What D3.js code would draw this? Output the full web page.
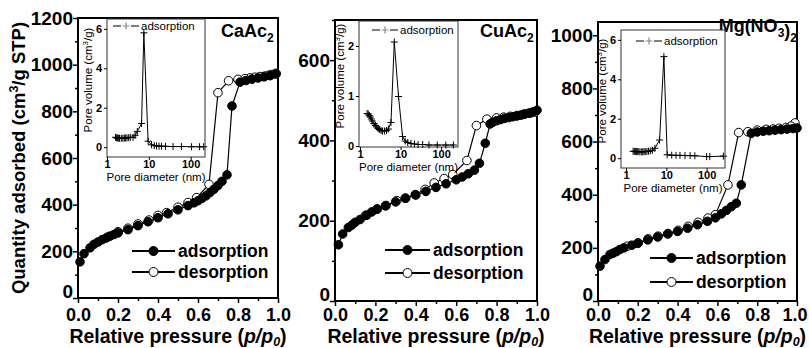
<!DOCTYPE html>
<html>
<head>
<meta charset="utf-8">
<script src="https://cdn.jsdelivr.net/npm/d3@7"></script>
<style>
  body { margin: 0; background: #fff; }
  svg { display: block; font-family: "Liberation Sans", Arial, sans-serif; }
</style>
</head>
<body>
<script>
// ---- data ----
// relative pressure ticks
var xTicks = [0, 0.2, 0.4, 0.6, 0.8, 1.0];
var xMinor = [0.1, 0.3, 0.5, 0.7, 0.9];
var caYTicks = [0, 200, 400, 600, 800, 1000, 1200];
var cuYTicks = [0, 200, 400, 600];
var mgYTicks = [0, 200, 400, 600, 800, 1000];
var insetXTicks = [1, 10, 100];
var caInsetYTicks = [0, 2, 4, 6];
var cuInsetYTicks = [0, 1, 2];
var mgInsetYTicks = [0, 2, 4, 6];

// isotherms [p/p0, quantity adsorbed]
var caAds = [[0.01,155],[0.03,190],[0.06,215],[0.08,230],[0.10,240],[0.12,250],[0.14,257],[0.16,265],[0.18,272],[0.20,279],[0.25,293],[0.30,310],[0.35,327],[0.40,344],[0.45,361],[0.50,378],[0.55,396],[0.58,408],[0.60,417],[0.62,427],[0.64,438],[0.66,452],[0.68,466],[0.70,482],[0.72,500],[0.745,528],[0.77,823],[0.81,925],[0.84,932],[0.87,938],[0.90,943],[0.93,948],[0.96,953],[0.99,960]];
var caDes = [[0.99,963],[0.97,958],[0.955,955],[0.935,951],[0.91,949],[0.885,946],[0.86,943],[0.835,940],[0.80,937],[0.753,931],[0.70,880],[0.655,487],[0.593,430],[0.55,409],[0.50,389],[0.443,366],[0.40,354],[0.355,334],[0.30,317],[0.25,299],[0.20,284],[0.15,262]];

var cuAds = [[0.017,140],[0.038,167],[0.066,183],[0.083,189],[0.10,196],[0.124,203],[0.157,214],[0.182,222],[0.21,229],[0.25,237],[0.30,247],[0.35,256],[0.40,264],[0.45,273],[0.50,283],[0.55,292],[0.60,302],[0.63,309],[0.66,317],[0.69,326],[0.715,343],[0.744,393],[0.768,441],[0.78,445],[0.80,449],[0.82,452],[0.84,455],[0.86,457],[0.88,459],[0.90,461],[0.92,463],[0.94,466],[0.96,468],[0.98,471],[1.0,475]];
var cuDes = [[0.99,471],[0.967,468],[0.934,465],[0.901,462],[0.868,460],[0.835,458],[0.80,456],[0.752,453],[0.70,437],[0.653,350],[0.583,315],[0.54,305],[0.491,294],[0.446,278],[0.397,265],[0.347,256],[0.306,250],[0.253,238],[0.207,229],[0.15,213]];

var mgAds = [[0.01,131],[0.035,156],[0.06,175],[0.076,180],[0.093,186],[0.11,194],[0.13,200],[0.17,210],[0.20,217],[0.25,230],[0.30,241],[0.35,252],[0.40,262],[0.45,274],[0.50,287],[0.55,300],[0.59,313],[0.62,328],[0.645,341],[0.67,355],[0.695,368],[0.72,437],[0.77,631],[0.80,636],[0.83,639],[0.86,641],[0.89,643],[0.92,645],[0.95,647],[0.98,649],[1.0,651]];
var mgDes = [[0.99,670],[0.97,658],[0.945,653],[0.91,650],[0.88,647],[0.845,646],[0.80,643],[0.753,637],[0.707,634],[0.653,437],[0.59,325],[0.553,312],[0.503,296],[0.453,281],[0.403,266],[0.352,254],[0.302,244],[0.252,234],[0.202,219],[0.147,206]];

// pore size distributions [diameter nm, pore volume]
var caPsd = [[1.6,0.5],[1.7,0.47],[1.8,0.46],[1.9,0.46],[2.0,0.45],[2.2,0.45],[2.4,0.45],[2.6,0.46],[2.8,0.46],[3.0,0.47],[3.3,0.48],[3.6,0.5],[4.2,0.5],[4.7,0.6],[5.3,0.8],[6.7,1.2],[7.6,5.8],[9.6,0.3],[11.6,0.12],[13.5,0.08],[15.3,0.06],[17.5,0.05],[20,0.05],[25,0.04],[38,0.03],[60,0.03],[105,0.02],[163,0.02],[205,0.02]];
var cuPsd = [[1.5,0.65],[1.6,0.64],[1.7,0.61],[1.8,0.58],[1.9,0.54],[2.0,0.5],[2.2,0.45],[2.4,0.41],[2.6,0.38],[2.8,0.35],[3.0,0.33],[3.3,0.31],[3.6,0.3],[4.0,0.3],[4.5,0.31],[5.0,0.34],[5.8,0.47],[7.0,2.08],[8.9,0.99],[11.2,0.19],[13,0.1],[15,0.07],[18,0.05],[22,0.04],[27,0.03],[35,0.03],[50,0.02],[80,0.02],[130,0.02],[200,0.02]];
var mgPsd = [[1.5,0.35],[1.6,0.34],[1.7,0.34],[1.8,0.33],[1.9,0.33],[2.0,0.33],[2.2,0.32],[2.4,0.32],[2.6,0.32],[2.8,0.33],[3.0,0.33],[3.3,0.34],[3.6,0.35],[4.0,0.37],[4.5,0.4],[5.2,0.5],[6.8,0.92],[8.7,5.15],[10.5,0.17],[13.6,0.15],[17.4,0.14],[21.8,0.14],[29,0.13],[39,0.13],[51,0.12],[100,0.08],[120,0.08],[260,0.1]];

var svg = d3.select('body').append('svg')
    .attr('width', 809)
    .attr('height', 348);

// baseline of the relative pressure tick labels, shared by the three panels
var tickBaseline = 321;

// style an axis group: no domain path, black ticks, bold labels
function styleAxis(g, size, weight, lw) {
  g.select('.domain').remove();
  g.selectAll('line').attr('stroke', '#000').attr('stroke-width', lw);
  g.selectAll('text')
    .attr('fill', '#000')
    .style('font-size', size + 'px')
    .style('font-weight', weight)
    .style('font-family', '"Liberation Sans", Arial, sans-serif');
}

function panel(o) {
  var x = d3.scaleLinear().domain([0, 1]).range([o.left, o.right]);
  var y = d3.scaleLinear().domain([0, o.yMax]).range([o.bottom, o.top]);

  // axes
  var gx = svg.append('g').attr('transform', 'translate(0,' + o.bottom + ')')
      .call(d3.axisBottom(x).tickValues(xTicks).tickSize(5).tickFormat(d3.format('.1f')));
  styleAxis(gx, 18, 'bold', 1.5);
  gx.selectAll('text').attr('dy', null).attr('y', tickBaseline - o.bottom);
  if (o.lastLabelShift) {
    gx.selectAll('.tick').filter(function(d){ return d === 1; }).select('text').attr('dx', o.lastLabelShift);
  }
  var gxm = svg.append('g').attr('transform', 'translate(0,' + o.bottom + ')')
      .call(d3.axisBottom(x).tickValues(xMinor).tickSize(3).tickFormat(''));
  styleAxis(gxm, 18, 'bold', 1.5);

  var gy = svg.append('g').attr('transform', 'translate(' + o.left + ',0)')
      .call(d3.axisLeft(y).tickValues(o.yTicks).tickSize(5).tickPadding(0).tickFormat(d3.format('d')));
  styleAxis(gy, 19, 'bold', 1.5);
  // the "0" label sits a little above the corner
  gy.selectAll('.tick').filter(function(d){ return d === 0; }).select('text').attr('y', -6.5);
  var gym = svg.append('g').attr('transform', 'translate(' + o.left + ',0)')
      .call(d3.axisLeft(y).tickValues(d3.range(100, o.yMax + 1, 200)).tickSize(3).tickFormat(''));
  styleAxis(gym, 19, 'bold', 1.5);

  svg.append('rect')
      .attr('x', o.left).attr('y', o.top)
      .attr('width', o.right - o.left).attr('height', o.bottom - o.top)
      .attr('fill', 'none').attr('stroke', '#000').attr('stroke-width', 2);

  // isotherm curves
  var line = d3.line().x(function(d){ return x(d[0]); }).y(function(d){ return y(d[1]); });
  [[o.des, '#fff'], [o.ads, '#000']].forEach(function(s) {
    svg.append('path').datum(s[0])
        .attr('d', line).attr('fill', 'none')
        .attr('stroke', '#000').attr('stroke-width', 1.2);
    svg.append('g').selectAll('circle')
        .data(s[0])
        .enter()
        .append('circle')
        .attr('cx', function(d){ return x(d[0]); })
        .attr('cy', function(d){ return y(d[1]); })
        .attr('r', 4.3)
        .attr('fill', s[1])
        .attr('stroke', '#000')
        .attr('stroke-width', 1);
  });

  // legend
  [['adsorption', '#000', o.leg.y1], ['desorption', '#fff', o.leg.y2]].forEach(function(l) {
    svg.append('line')
        .attr('x1', o.leg.x1).attr('x2', o.leg.x2)
        .attr('y1', l[2]).attr('y2', l[2])
        .attr('stroke', '#000').attr('stroke-width', 2);
    svg.append('circle')
        .attr('cx', (o.leg.x1 + o.leg.x2) / 2).attr('cy', l[2]).attr('r', 4.5)
        .attr('fill', l[1]).attr('stroke', '#000').attr('stroke-width', 1);
    svg.append('text')
        .attr('x', o.leg.x2 + 3).attr('y', l[2] + 6)
        .style('font-size', '17.5px').style('font-weight', 'bold')
        .text(l[0]);
  });

  // x axis title
  var t = svg.append('text')
      .attr('x', (o.left + o.right) / 2).attr('y', 342.5)
      .attr('text-anchor', 'middle')
      .style('font-size', '19.5px').style('font-weight', 'bold');
  t.append('tspan').text('Relative pressure (');
  t.append('tspan').style('font-style', 'italic').text('p/p');
  t.append('tspan').style('font-style', 'italic').style('font-size', '12.5px').attr('dy', 3).text('0');
  t.append('tspan').attr('dy', -3).text(')');

  // sample name
  var n = svg.append('text')
      .attr('x', o.name.x).attr('y', o.name.y)
      .attr('text-anchor', o.name.anchor)
      .style('font-size', '18px').style('font-weight', 'bold');
  o.name.parts.forEach(function(p) {
    if (p.sub) {
      n.append('tspan').attr('dy', 5).style('font-size', '12px').text(p.t);
      n.append('tspan').attr('dy', -5).text('');
    } else {
      n.append('tspan').text(p.t);
    }
  });

  inset(o.inset);
}

function inset(o) {
  var x = d3.scaleLog().domain(o.xDomain).range([o.left, o.right]);
  var y = d3.scaleLinear().domain(o.yDomain).range([o.bottom, o.top]);

  svg.append('rect')
      .attr('x', o.left).attr('y', o.top)
      .attr('width', o.right - o.left).attr('height', o.bottom - o.top)
      .attr('fill', '#fff').attr('stroke', '#333').attr('stroke-width', 1);

  var gx = svg.append('g').attr('transform', 'translate(0,' + o.bottom + ')')
      .call(d3.axisBottom(x).tickValues(insetXTicks).tickSize(3).tickPadding(0).tickFormat(d3.format('d')));
  styleAxis(gx, 11, 'bold', 1);
  var gy = svg.append('g').attr('transform', 'translate(' + o.left + ',0)')
      .call(d3.axisLeft(y).tickValues(o.yTicks).tickSize(3).tickPadding(2).tickFormat(d3.format('d')));
  styleAxis(gy, 11, 'bold', 1);

  var line = d3.line().x(function(d){ return x(d[0]); }).y(function(d){ return y(d[1]); });
  svg.append('path').datum(o.data)
      .attr('d', line).attr('fill', 'none')
      .attr('stroke', '#000').attr('stroke-width', 1);
  // "+" markers
  svg.append('g').selectAll('path')
      .data(o.data)
      .enter()
      .append('path')
      .attr('d', function(d){
        var cx = x(d[0]), cy = y(d[1]);
        return 'M' + (cx - 3.5) + ',' + cy + 'H' + (cx + 3.5) + 'M' + cx + ',' + (cy - 3.5) + 'V' + (cy + 3.5);
      })
      .attr('stroke', '#000').attr('stroke-width', 1);

  // legend: -+- adsorption
  svg.append('line')
      .attr('x1', o.leg.x).attr('x2', o.leg.x + 8)
      .attr('y1', o.leg.y).attr('y2', o.leg.y)
      .attr('stroke', '#000').attr('stroke-width', 1);
  svg.append('line')
      .attr('x1', o.leg.x + 18).attr('x2', o.leg.x + 26)
      .attr('y1', o.leg.y).attr('y2', o.leg.y)
      .attr('stroke', '#000').attr('stroke-width', 1);
  svg.append('path')
      .attr('d', 'M' + (o.leg.x + 9.5) + ',' + o.leg.y + 'H' + (o.leg.x + 16.5) + 'M' + (o.leg.x + 13) + ',' + (o.leg.y - 3.5) + 'V' + (o.leg.y + 3.5))
      .attr('stroke', '#888').attr('stroke-width', 1.2);
  svg.append('text')
      .attr('x', o.leg.x + 28).attr('y', o.leg.y + 4)
      .style('font-size', '11.5px')
      .text('adsorption');

  // axis titles
  svg.append('text')
      .attr('x', (o.left + o.right) / 2).attr('y', o.bottom + 24)
      .attr('text-anchor', 'middle')
      .style('font-size', '11.5px')
      .text('Pore diameter (nm)');
  var t = svg.append('text')
      .attr('transform', 'translate(' + (o.left - 19.5) + ',' + ((o.top + o.bottom) / 2 - 8) + ') rotate(-90)')
      .attr('text-anchor', 'middle')
      .attr('dy', '0.35em')
      .style('font-size', '11.5px');
  t.append('tspan').text('Pore volume (cm');
  t.append('tspan').attr('dy', -4).style('font-size', '8px').text('3');
  t.append('tspan').attr('dy', 4).text('/g)');
}

panel({
  left: 78, right: 278, top: 18, bottom: 298, yMax: 1200, yTicks: caYTicks,
  ads: caAds, des: caDes,
  leg: {x1: 132, x2: 175, y1: 251, y2: 272},
  name: {x: 221, y: 37, anchor: 'start', parts: [{t: 'CaAc'}, {t: '2', sub: true}]},
  inset: {left: 107, right: 205, top: 19, bottom: 157, xDomain: [1, 220], yDomain: [-0.5, 6.5],
          yTicks: caInsetYTicks, data: caPsd, leg: {x: 113, y: 26}}
});

panel({
  left: 335, right: 537, top: 20, bottom: 301, yMax: 700, yTicks: cuYTicks,
  ads: cuAds, des: cuDes,
  leg: {x1: 385, x2: 430, y1: 250, y2: 273},
  name: {x: 480, y: 37, anchor: 'start', parts: [{t: 'CuAc'}, {t: '2', sub: true}]},
  inset: {left: 359, right: 458, top: 21, bottom: 147, xDomain: [0.945, 260], yDomain: [-0.02, 2.5],
          yTicks: cuInsetYTicks, data: cuPsd, leg: {x: 372, y: 30}}
});

panel({
  left: 598, right: 797, top: 22, bottom: 301, yMax: 1050, yTicks: mgYTicks,
  ads: mgAds, des: mgDes, lastLabelShift: -2.5,
  leg: {x1: 650, x2: 693, y1: 258, y2: 282},
  name: {x: 797, y: 32, anchor: 'end', parts: [{t: 'Mg(NO'}, {t: '3', sub: true}, {t: ')'}, {t: '2', sub: true}]},
  inset: {left: 621, right: 725, top: 30, bottom: 168, xDomain: [0.75, 286], yDomain: [-0.5, 6.5],
          yTicks: mgInsetYTicks, data: mgPsd, leg: {x: 636, y: 41}}
});

// y axis title (left panel only)
var yt = svg.append('text')
    .attr('transform', 'translate(19,158) rotate(-90)')
    .attr('text-anchor', 'middle')
    .attr('dy', '0.35em')
    .style('font-size', '18.5px').style('font-weight', 'bold');
yt.append('tspan').text('Quantity adsorbed (cm');
yt.append('tspan').attr('dy', -7).style('font-size', '12.5px').text('3');
yt.append('tspan').attr('dy', 7).text('/g STP)');
</script>
</body>
</html>
